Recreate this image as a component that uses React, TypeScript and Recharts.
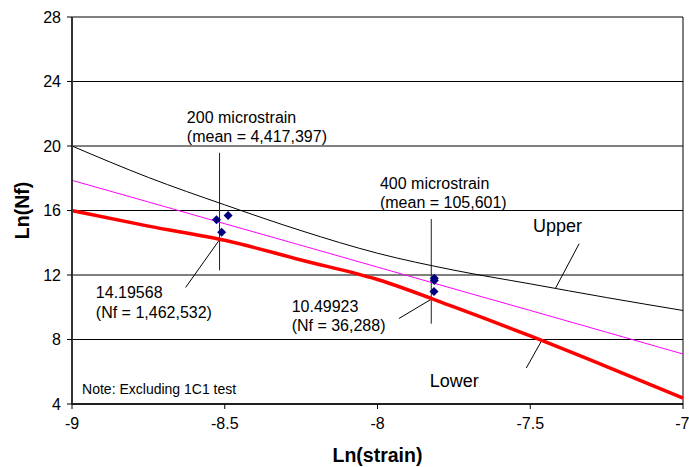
import {
  ComposedChart,
  Line,
  Scatter,
  XAxis,
  YAxis,
  CartesianGrid,
  ReferenceLine,
  ReferenceDot,
} from 'recharts';

const FONT = '"Liberation Sans", Arial, Helvetica, sans-serif';

// ln(strain) positions the curves are read at
const strainPoints = [-9, -8.75, -8.5, -8.25, -8, -7.75, -7.5, -7.25, -7];
const upperBound = [20, 18.05, 16.35, 14.75, 13.35, 12.3, 11.45, 10.6, 9.8];
const meanFit = [17.87, 16.53, 15.18, 13.84, 12.49, 11.14, 9.8, 8.45, 7.1];
const lowerBound = [16, 15.03, 14.15, 12.93, 11.72, 10.02, 8.22, 6.32, 4.37];

// test results (ln strain, ln Nf)
const testStrain = [-8.527, -8.489, -8.51, -7.814, -7.814, -7.815];
const testLife = [15.42, 15.69, 14.65, 11.8, 11.66, 10.98];

const xTicks = [-9, -8.5, -8, -7.5, -7];
const yTicks = [4, 8, 12, 16, 20, 24, 28];

// vertical spread bars at 200 and 400 microstrain
const spreadBars = [
  { x: -8.517, top: 19.58, bottom: 12.29 },
  { x: -7.824, top: 15.47, bottom: 8.98 },
];

// leader lines: [x1, y1, x2, y2]
const leaders = [
  [-8.628, 11.23, -8.517, 14.19],
  [-7.93, 9.3, -7.824, 10.5],
  [-7.34, 13.94, -7.417, 11.19],
  [-7.513, 6.23, -7.464, 7.88],
];

const notes = [
  { x: -8.624, y: 21.82, lines: ['200 microstrain', '(mean = 4,417,397)'], size: 16 },
  { x: -7.992, y: 17.72, lines: ['400 microstrain', '(mean = 105,601)'], size: 16 },
  { x: -8.922, y: 10.93, lines: ['14.19568', '(Nf = 1,462,532)'], size: 16 },
  { x: -8.281, y: 10.1, lines: ['10.49923', '(Nf = 36,288)'], size: 16 },
  { x: -7.491, y: 15.01, lines: ['Upper'], size: 18 },
  { x: -7.829, y: 5.4, lines: ['Lower'], size: 18 },
];

const rows = strainPoints.map((x, i) => ({
  x,
  upper: upperBound[i],
  fit: meanFit[i],
  lower: lowerBound[i],
}));

const tests = testStrain.map((x, i) => ({ x, y: testLife[i] }));

function Diamond(props: any) {
  const { cx, cy } = props;
  const r = 4.5;
  return (
    <polygon
      points={`${cx},${cy - r} ${cx + r},${cy} ${cx},${cy + r} ${cx - r},${cy}`}
      fill="#00007F"
    />
  );
}

function noteShape(lines: string[], size: number) {
  return (props: any) => (
    <text
      x={props.cx}
      y={props.cy}
      fontFamily={FONT}
      fontSize={size}
      fill="#000"
      dominantBaseline="central"
    >
      {lines.map((t, i) => (
        <tspan key={i} x={props.cx} dy={i === 0 ? 0 : 19.5}>
          {t}
        </tspan>
      ))}
    </text>
  );
}

function footShape(props: any) {
  return (
    <text
      x={props.cx}
      y={props.cy}
      fontFamily={'"Liberation Sans Narrow", "Arial Narrow", Arial, sans-serif'}
      fontSize={14}
      fill="#000"
      dominantBaseline="central"
    >
      Note: Excluding 1C1 test
    </text>
  );
}

export default function App() {
  return (
    <div style={{ position: 'absolute', left: 0, top: 0, background: '#fff' }}>
      <ComposedChart
        width={689}
        height={467}
        data={rows}
        margin={{ top: 17, right: 6, bottom: 0, left: 0 }}
        style={{ fontFamily: FONT }}
      >
        <CartesianGrid horizontal vertical={false} stroke="#000" strokeWidth={1} />
        <XAxis
          type="number"
          dataKey="x"
          domain={[-9, -7]}
          ticks={xTicks}
          height={63}
          tickSize={5}
          tickMargin={9}
          tick={{ fill: '#000', fontSize: 16, fontFamily: FONT }}
          axisLine={{ stroke: '#000', strokeWidth: 1.5 }}
          tickLine={{ stroke: '#000' }}
          label={{
            value: 'Ln(strain)',
            position: 'insideBottom',
            offset: 5,
            style: { fontSize: 19.5, fontWeight: 'bold', fill: '#000', fontFamily: FONT },
          }}
        />
        <YAxis
          type="number"
          domain={[4, 28]}
          ticks={yTicks}
          width={72}
          tickSize={5}
          tickMargin={6}
          tick={{ fill: '#000', fontSize: 16, fontFamily: FONT }}
          axisLine={{ stroke: '#333', strokeWidth: 2 }}
          tickLine={{ stroke: '#000' }}
          label={{
            value: 'Ln(Nf)',
            angle: -90,
            position: 'insideLeft',
            offset: 22,
            style: { fontSize: 19.5, fontWeight: 'bold', fill: '#000', fontFamily: FONT, textAnchor: 'middle' },
          }}
        />
        <ReferenceLine x={-7} stroke="#000" strokeWidth={1} />
        {spreadBars.map((b, i) => (
          <ReferenceLine
            key={'bar' + i}
            segment={[
              { x: b.x, y: b.top },
              { x: b.x, y: b.bottom },
            ]}
            stroke="#222"
            strokeWidth={1}
          />
        ))}
        {leaders.map((l, i) => (
          <ReferenceLine
            key={'lead' + i}
            segment={[
              { x: l[0], y: l[1] },
              { x: l[2], y: l[3] },
            ]}
            stroke="#000"
            strokeWidth={1}
          />
        ))}
        <Line type="monotone" dataKey="upper" stroke="#000" strokeWidth={1} dot={false} isAnimationActive={false} />
        <Line type="linear" dataKey="fit" stroke="#FF00FF" strokeWidth={1} dot={false} isAnimationActive={false} />
        <Line type="monotone" dataKey="lower" stroke="#FF0000" strokeWidth={3.5} dot={false} isAnimationActive={false} />
        <Scatter data={tests} dataKey="y" shape={Diamond} isAnimationActive={false} />
        {notes.map((n, i) => (
          <ReferenceDot key={'note' + i} x={n.x} y={n.y} r={0} shape={noteShape(n.lines, n.size)} />
        ))}
        <ReferenceDot x={-8.967} y={4.95} r={0} shape={footShape} />
      </ComposedChart>
    </div>
  );
}
